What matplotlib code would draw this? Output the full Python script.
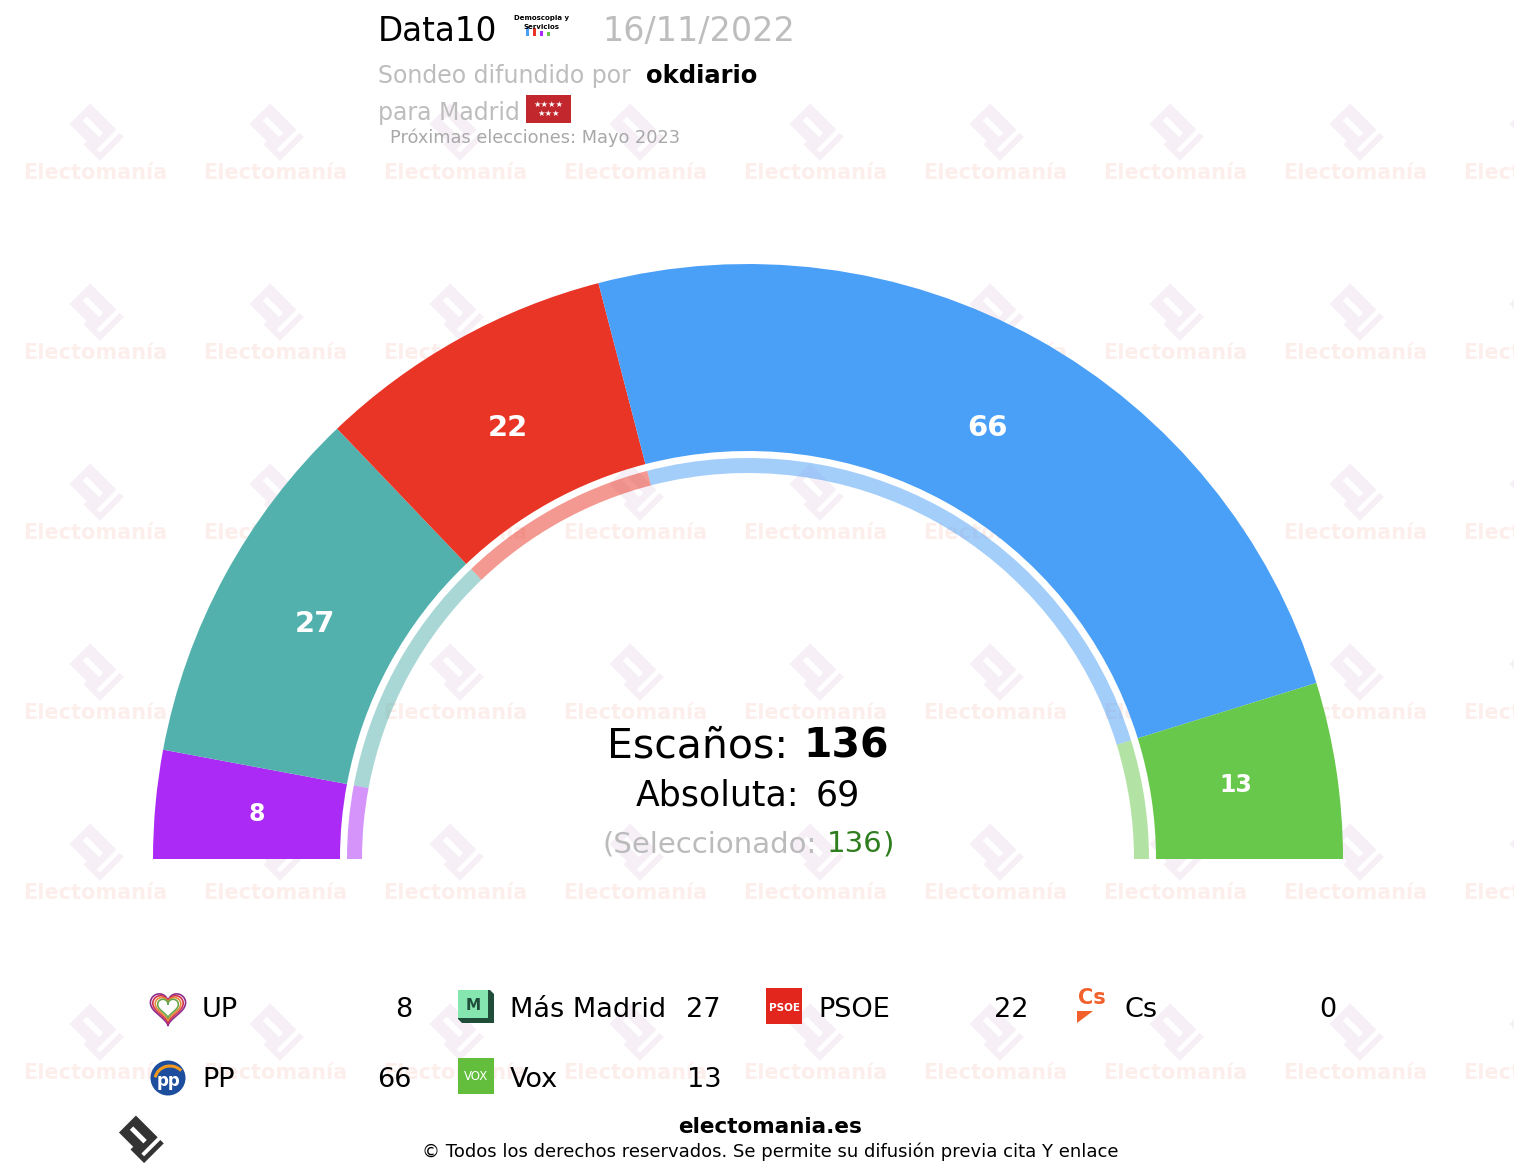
import matplotlib
matplotlib.use('Agg')
import matplotlib.pyplot as plt
from matplotlib.patches import Wedge, Rectangle, Polygon, Circle, Arc
import numpy as np

# ---------------- data ----------------
parties = ['UP', 'Más Madrid', 'PSOE', 'PP', 'Vox']
seats = [8, 27, 22, 66, 13]
party_colors = ['#AB2AF5', '#52B1AD', '#E83525', '#4A9FF7', '#67C84B']
label_sizes = [17, 21, 21, 21, 17]

legend_names = ['UP', 'Más Madrid', 'PSOE', 'Cs', 'PP', 'Vox']
legend_values = [8, 27, 22, 0, 66, 13]

total_seats = 136
majority = 69
selected = 136

pollster = 'Data10'
poll_date = '16/11/2022'
media = 'okdiario'
region = 'Madrid'
next_election = 'Próximas elecciones: Mayo 2023'

# ---------------- figure ----------------
W, H = 1514, 1174
fig = plt.figure(figsize=(W / 100, H / 100), dpi=100)
ax = fig.add_axes([0, 0, 1, 1])
ax.set_xlim(0, W)
ax.set_ylim(H, 0)
ax.axis('off')
renderer = fig.canvas.get_renderer()
FONT = 'DejaVu Sans'


def width_of(t):
    return t.get_window_extent(renderer=renderer).width


def seq_text(x, y, parts, ha='left', zorder=5):
    """parts: list of (string, props, gap_after_px)"""
    objs = []
    widths = []
    for s, props, gap in parts:
        t = ax.text(0, y, s, va='baseline', ha='left', family=FONT, zorder=zorder, **props)
        objs.append(t)
        widths.append(width_of(t) + gap)
    total = sum(widths)
    if ha == 'center':
        cur = x - total / 2
    elif ha == 'right':
        cur = x - total
    else:
        cur = x
    for t, w in zip(objs, widths):
        t.set_x(cur)
        cur += w
    return objs


def logo(cx, cy, s, color, alpha=1.0, z=0):
    # simplified electomania logo: tilted square with slot and check tail
    def rot(pts):
        a = np.deg2rad(45)
        out = []
        for px, py in pts:
            out.append((cx + s * (px * np.cos(a) - py * np.sin(a)),
                        cy + s * (px * np.sin(a) + py * np.cos(a))))
        return out
    body = rot([(-0.42, -0.30), (0.22, -0.30), (0.22, 0.20), (-0.42, 0.20)])
    ax.add_patch(Polygon(body, closed=True, fc=color, ec='none', alpha=alpha, zorder=z))
    slot = rot([(-0.30, -0.10), (0.10, -0.10), (0.10, 0.0), (-0.30, 0.0)])
    ax.add_patch(Polygon(slot, closed=True, fc='white', ec='none', zorder=z))
    tail = rot([(0.0, 0.28), (0.40, 0.28), (0.40, -0.30), (0.30, -0.30), (0.30, 0.18), (0.0, 0.18)])
    ax.add_patch(Polygon(tail, closed=True, fc=color, ec='none', alpha=alpha, zorder=z))


# ---------------- watermark ----------------
for j in range(6):
    ty = 173 + 180 * j
    for k in range(9):
        tx = 95 + 180 * k
        ax.text(tx, ty, 'Electomanía', ha='center', va='center', fontsize=15,
                fontweight='bold', color='#FCEEEB', family=FONT, zorder=0)
        logo(tx, ty - 40, 58, '#F6EFF6', z=0)

# ---------------- hemicycle ----------------
cx, cy = 748, 859
R_out, R_in = 595, 408
r_thin_out, thin_w = 401, 15
cum = 0
for name, s, col, fs in zip(parties, seats, party_colors, label_sizes):
    a_start = 180 - cum * 180 / total_seats
    a_end = 180 - (cum + s) * 180 / total_seats
    # visual angles (y axis inverted -> negate)
    ax.add_patch(Wedge((cx, cy), R_out, -a_start, -a_end, width=R_out - R_in,
                       fc=col, ec='none', zorder=2))
    ax.add_patch(Wedge((cx, cy), r_thin_out, -a_start, -a_end, width=thin_w,
                       fc=col, ec='none', alpha=0.5, zorder=2))
    mid = np.deg2rad((a_start + a_end) / 2)
    rl = 493
    ax.text(cx + rl * np.cos(mid), cy - rl * np.sin(mid), str(s), ha='center', va='center',
            fontsize=fs, fontweight='bold', color='white', family=FONT, zorder=3)
    cum += s

# ---------------- center texts ----------------
seq_text(cx, 758, [('Escaños:', dict(fontsize=29.5, color='black'), 15),
                   (str(total_seats), dict(fontsize=29.5, color='black', fontweight='bold'), 0)],
         ha='center')
seq_text(cx, 805, [('Absoluta:', dict(fontsize=25, color='black'), 17),
                   (str(majority), dict(fontsize=25, color='black'), 0)], ha='center')
seq_text(cx, 852, [('(Seleccionado:', dict(fontsize=21, color='#BBBBBB'), 10),
                   (str(selected), dict(fontsize=21, color='#2E7D1E'), 0),
                   (')', dict(fontsize=21, color='#2E7D1E'), 0)], ha='center')

# ---------------- header ----------------
ax.text(378, 41, pollster, fontsize=23.5, color='black', family=FONT, va='baseline', zorder=5)
ax.text(602, 41, poll_date, fontsize=24, color='#BDBDBD', family=FONT, va='baseline', zorder=5)
# small pollster logo
ax.text(542, 18, 'Demoscopia y', fontsize=5, fontweight='bold', ha='center', va='center',
        family=FONT, zorder=5)
ax.text(542, 27, 'Servicios', fontsize=5, fontweight='bold', ha='center', va='center',
        family=FONT, zorder=5)
for bx, bc, bh in [(526, '#4A9FF7', 9), (533, '#E83525', 8), (540, '#AB2AF5', 5), (547, '#67C84B', 4)]:
    ax.add_patch(Rectangle((bx, 36 - bh), 3, bh, fc=bc, ec='none', zorder=4))

seq_text(378, 83, [('Sondeo difundido por', dict(fontsize=17, color='#BDBDBD'), 15),
                   (media, dict(fontsize=17.5, color='black', fontweight='bold'), 0)])
ax.text(378, 120, 'para ' + region, fontsize=17, color='#BDBDBD', family=FONT,
        va='baseline', zorder=5)
ax.add_patch(Rectangle((526, 95), 45, 28, fc='#C1272D', ec='none', zorder=5))
ax.text(548.5, 104, '★★★★', fontsize=6, color='white', ha='center', va='center', family=FONT, zorder=6)
ax.text(548.5, 113, '★★★', fontsize=6, color='white', ha='center', va='center', family=FONT, zorder=6)
ax.text(390, 143, next_election, fontsize=12.8, color='#A8A8A8', family=FONT,
        va='baseline', zorder=5)

# ---------------- legend ----------------
col_icon = [168, 476, 784, 1092]
col_name = [202, 510, 818, 1125]
col_val = [412, 721, 1029, 1336]
row_base = [1017, 1087]


def icon(name, x, yc):
    if name == 'UP':
        t = np.linspace(0, 2 * np.pi, 200)
        hx = 16 * np.sin(t) ** 3
        hy = 13 * np.cos(t) - 5 * np.cos(2 * t) - 2 * np.cos(3 * t) - np.cos(4 * t)
        for sc, c in zip([1.1, 0.95, 0.8, 0.65], ['#8E2C8E', '#D0344E', '#E98A3A', '#6AA84F']):
            ax.plot(x + hx * sc, yc - hy * sc + 1, color=c, lw=1.2, zorder=5)
    elif name == 'Más Madrid':
        ax.add_patch(Polygon([(x - 18, yc - 16), (x + 14, yc - 16), (x + 18, yc - 12), (x + 18, yc + 17),
                              (x - 14, yc + 17), (x - 18, yc + 13)], fc='#1F4D3A', ec='none', zorder=5))
        ax.add_patch(Rectangle((x - 18, yc - 16), 30, 28, fc='#86E6B0', ec='none', zorder=6))
        ax.text(x - 3, yc - 1, 'M', fontsize=11, color='#1F4D3A', fontweight='bold', ha='center',
                va='center', family=FONT, zorder=7)
    elif name == 'PSOE':
        ax.add_patch(Rectangle((x - 18, yc - 18), 36, 36, fc='#E3261D', ec='none', zorder=5))
        ax.text(x, yc + 2, 'PSOE', fontsize=7.5, color='white', fontweight='bold', ha='center',
                va='center', family=FONT, zorder=6)
    elif name == 'Cs':
        ax.text(x, yc - 8, 'Cs', fontsize=15, color='#F2602B', fontweight='bold', ha='center',
                va='center', family=FONT, zorder=6)
        ax.add_patch(Polygon([(x - 15, yc + 5), (x + 1, yc + 5), (x - 15, yc + 17)], fc='#F2602B',
                             ec='none', zorder=6))
    elif name == 'PP':
        ax.add_patch(Circle((x, yc + 2), 17.5, fc='#1D4E9E', ec='none', zorder=5))
        ax.add_patch(Arc((x + 2, yc + 4), 30, 28, theta1=190, theta2=320, color='#F39A1E', lw=2.2, zorder=6))
        ax.text(x, yc + 5, 'pp', fontsize=12, color='white', fontweight='bold', ha='center',
                va='center', family=FONT, zorder=7)
    elif name == 'Vox':
        ax.add_patch(Rectangle((x - 18, yc - 18), 36, 36, fc='#63BE3D', ec='none', zorder=5))
        ax.text(x, yc + 1, 'VOX', fontsize=8.5, color='white', ha='center', va='center',
                family=FONT, zorder=6)


for i, (nm, val) in enumerate(zip(legend_names, legend_values)):
    r, c = divmod(i, 4)
    yb = row_base[r]
    icon(nm, col_icon[c], yb - 11)
    ax.text(col_name[c], yb, nm, fontsize=19.5, color='black', family=FONT, va='baseline', zorder=5)
    ax.text(col_val[c], yb, str(val), fontsize=19.5, color='black', family=FONT, va='baseline',
            ha='right', zorder=5)

# ---------------- footer ----------------
ax.text(770, 1133, 'electomania.es', fontsize=15.5, fontweight='bold', color='black', ha='center',
        va='baseline', family=FONT, zorder=5)
ax.text(770, 1157, '© Todos los derechos reservados. Se permite su difusión previa cita Y enlace',
        fontsize=13, color='black', ha='center', va='baseline', family=FONT, zorder=5)
logo(140, 1140, 48, '#333333', z=5)

fig.savefig('out.png', dpi=100)
